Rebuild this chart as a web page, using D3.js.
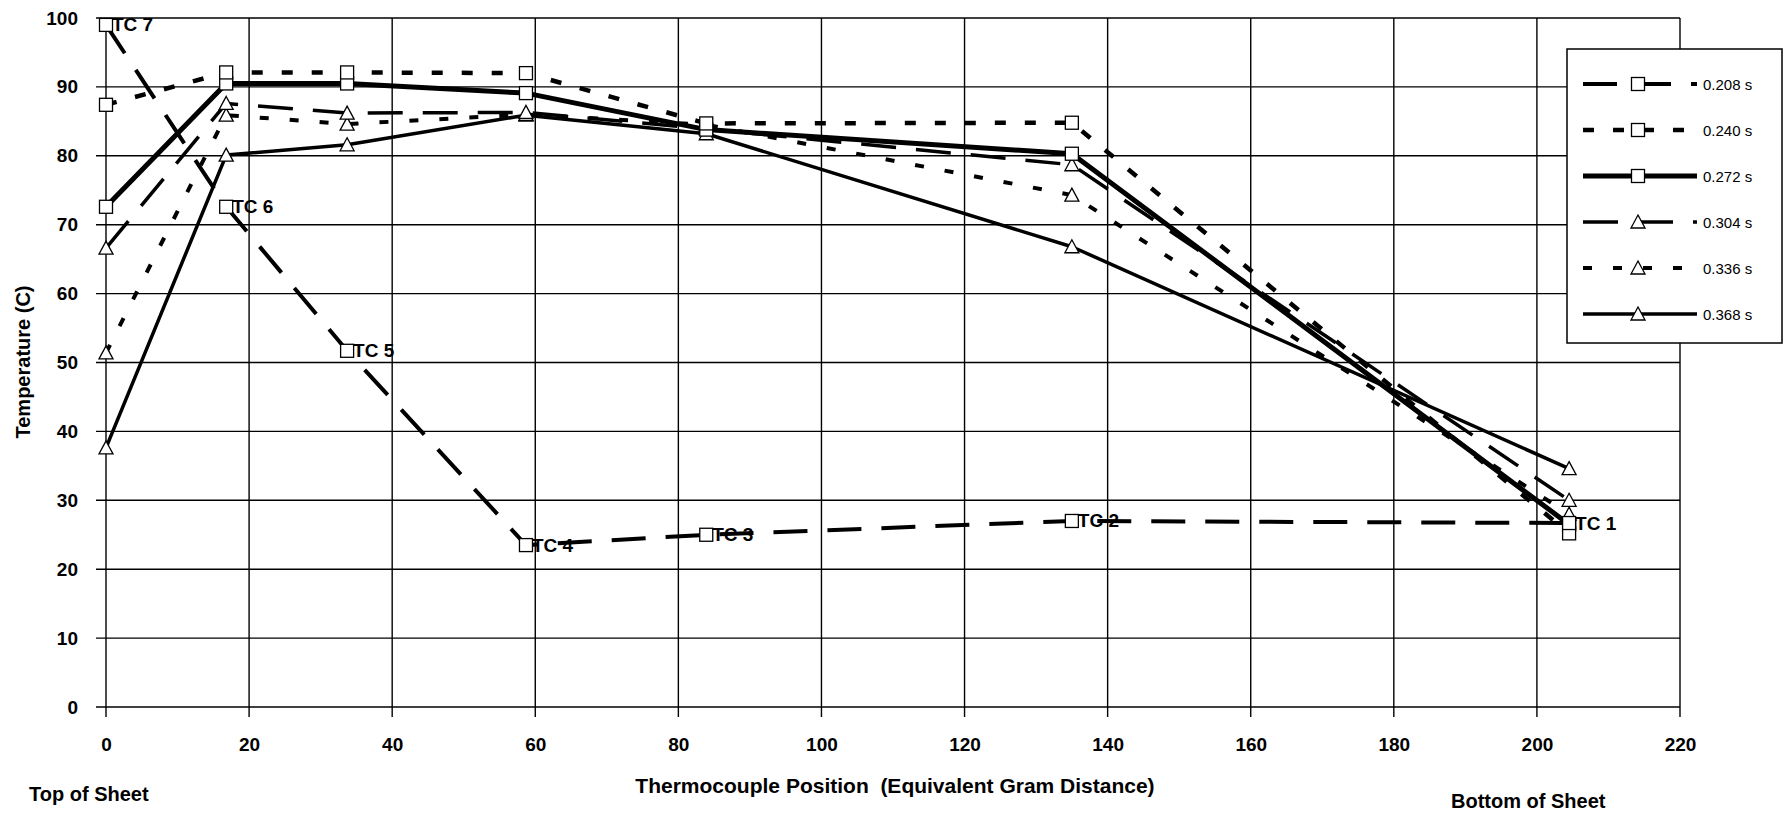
<!DOCTYPE html>
<html>
<head>
<meta charset="utf-8">
<script src="https://cdn.jsdelivr.net/npm/d3@7"></script>
<style>
  html, body { margin: 0; padding: 0; background: #fff; }
  svg { display: block; font-family: "Liberation Sans", Arial, sans-serif; }
  .pre { white-space: pre; }
</style>
</head>
<body>
<svg id="chart" width="1786" height="817"></svg>
<script>
// ---- data ----
const xPositions = [0, 16.8, 33.7, 58.7, 83.9, 135, 204.5];
const seriesNames = ["0.208 s", "0.240 s", "0.272 s", "0.304 s", "0.336 s", "0.368 s"];
const s208 = [99.0, 72.6, 51.7, 23.5, 25.0, 27.0, 26.7];
const s240 = [87.4, 92.1, 92.1, 92.0, 84.7, 84.8, 25.2];
const s272 = [72.6, 90.5, 90.5, 89.1, 83.8, 80.3, 26.5];
const s304 = [66.6, 87.6, 86.2, 86.3, 83.9, 78.7, 30.0];
const s336 = [51.4, 85.9, 84.6, 86.0, 84.5, 74.3, 28.0];
const s368 = [37.6, 80.1, 81.6, 85.9, 83.2, 66.8, 34.6];
const tcLabels = ["TC 7", "TC 6", "TC 5", "TC 4", "TC 3", "TC 2", "TC 1"];
const xTicks = [0, 20, 40, 60, 80, 100, 120, 140, 160, 180, 200, 220];
const yTicks = [0, 10, 20, 30, 40, 50, 60, 70, 80, 90, 100];

const seriesValues = [s208, s240, s272, s304, s336, s368];
const styles = [
  {dash: "34,20", w: 4,   marker: "square"},
  {dash: "11,19", w: 4.5, marker: "square"},
  {dash: null,    w: 5,   marker: "square"},
  {dash: "35,20", w: 3.5, marker: "triangle"},
  {dash: "9,21",  w: 4,   marker: "triangle"},
  {dash: null,    w: 3.5, marker: "triangle"}
];

const svg = d3.select("#chart");
const x = d3.scaleLinear().domain([0, 220]).range([106, 1680]);
const y = d3.scaleLinear().domain([0, 100]).range([707, 18]);

// gridlines + ticks
const g = svg.append("g");
g.selectAll("line.h").data(yTicks).join("line")
  .attr("x1", x(0) - 10).attr("x2", x(220))
  .attr("y1", d => y(d)).attr("y2", d => y(d))
  .attr("stroke", "#000").attr("stroke-width", 1.4);
g.selectAll("line.v").data(xTicks).join("line")
  .attr("x1", d => x(d)).attr("x2", d => x(d))
  .attr("y1", y(100)).attr("y2", y(0) + 10)
  .attr("stroke", "#000").attr("stroke-width", 1.4);

// axis labels via d3 axes (text only)
const yAxis = svg.append("g").attr("transform", `translate(${x(0) - 28},0)`)
  .call(d3.axisLeft(y).tickValues(yTicks).tickSize(0).tickPadding(0));
yAxis.select(".domain").remove();
yAxis.selectAll("text").attr("font-size", 19).attr("font-weight", "bold")
  .attr("font-family", "Liberation Sans, Arial, sans-serif").attr("fill", "#000");

const xAxis = svg.append("g").attr("transform", `translate(0,${y(0) + 30})`)
  .call(d3.axisBottom(x).tickValues(xTicks).tickSize(0).tickPadding(0));
xAxis.select(".domain").remove();
xAxis.selectAll("text").attr("font-size", 19).attr("font-weight", "bold")
  .attr("font-family", "Liberation Sans, Arial, sans-serif").attr("fill", "#000");

// titles
svg.append("text").attr("class", "pre").attr("x", 895).attr("y", 793).attr("text-anchor", "middle")
  .attr("font-size", 21).attr("font-weight", "bold")
  .text("Thermocouple Position  (Equivalent Gram Distance)");
svg.append("text").attr("x", 29).attr("y", 801)
  .attr("font-size", 20).attr("font-weight", "bold").text("Top of Sheet");
svg.append("text").attr("x", 1451).attr("y", 808)
  .attr("font-size", 20).attr("font-weight", "bold").text("Bottom of Sheet");
svg.append("text").attr("transform", "translate(30,362) rotate(-90)")
  .attr("text-anchor", "middle").attr("font-size", 20).attr("font-weight", "bold")
  .text("Temperature (C)");

// lines
const line = d3.line().x((d, i) => x(xPositions[i])).y(d => y(d));
seriesValues.forEach((vals, si) => {
  const st = styles[si];
  svg.append("path").attr("d", line(vals)).attr("fill", "none")
    .attr("stroke", "#000").attr("stroke-width", st.w)
    .attr("stroke-dasharray", st.dash).attr("stroke-linejoin", "round");
});

function drawMarker(sel, type, cx, cy) {
  if (type === "square") {
    sel.append("rect").attr("x", cx - 6.5).attr("y", cy - 6.5)
      .attr("width", 13).attr("height", 13)
      .attr("fill", "#fff").attr("stroke", "#000").attr("stroke-width", 1.3);
  } else {
    sel.append("path").attr("d", `M${cx},${cy - 7}L${cx + 7},${cy + 6}L${cx - 7},${cy + 6}Z`)
      .attr("fill", "#fff").attr("stroke", "#000").attr("stroke-width", 1.3);
  }
}

const mk = svg.append("g");
for (let si = seriesValues.length - 1; si >= 0; si--) {
  seriesValues[si].forEach((v, i) => drawMarker(mk, styles[si].marker, x(xPositions[i]), y(v)));
}

// TC labels on the 0.208 s series
svg.append("g").selectAll("text").data(s208).join("text")
  .attr("x", (d, i) => x(xPositions[i]) + 6)
  .attr("y", d => y(d))
  .attr("dominant-baseline", "central")
  .attr("font-size", 19).attr("font-weight", "bold")
  .text((d, i) => tcLabels[i]);

// legend
const lg = svg.append("g");
lg.append("rect").attr("x", 1567).attr("y", 49).attr("width", 215).attr("height", 294)
  .attr("fill", "#fff").attr("stroke", "#000").attr("stroke-width", 1.5);
seriesNames.forEach((name, si) => {
  const ly = 84 + si * 46;
  const st = styles[si];
  lg.append("line").attr("x1", 1583).attr("x2", 1697).attr("y1", ly).attr("y2", ly)
    .attr("stroke", "#000").attr("stroke-width", st.w).attr("stroke-dasharray", st.dash);
  drawMarker(lg, st.marker, 1638, ly);
  lg.append("text").attr("x", 1703).attr("y", ly).attr("dominant-baseline", "central")
    .attr("font-size", 15).text(name);
});
</script>
</body>
</html>
